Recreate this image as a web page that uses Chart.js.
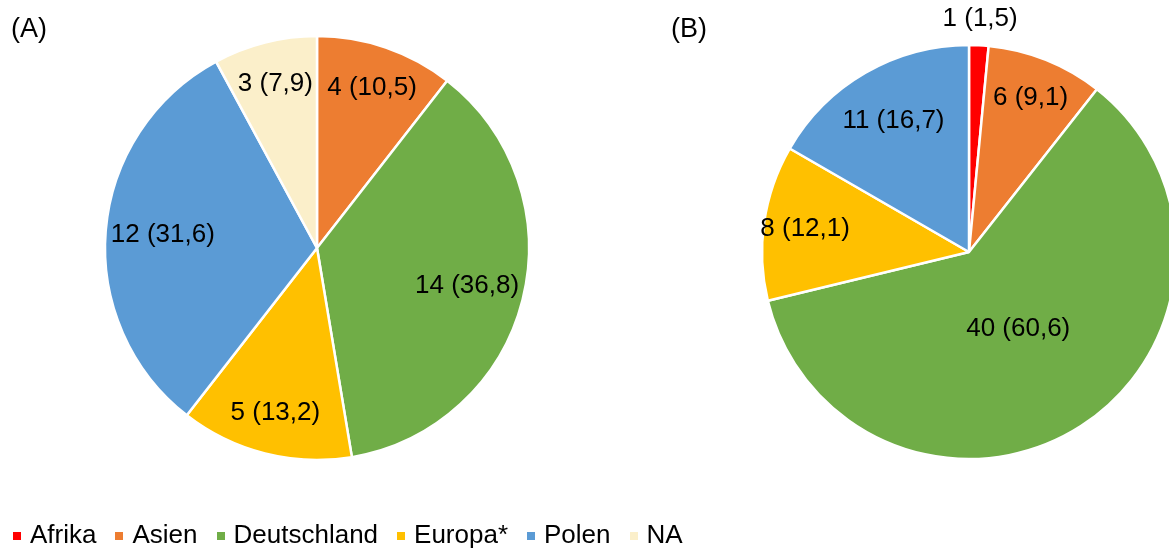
<!DOCTYPE html>
<html lang="de">
<head>
<meta charset="utf-8">
<title>Herkunft</title>
<script src="https://cdn.jsdelivr.net/npm/chart.js@4.4.1/dist/chart.umd.min.js"></script>
<style>
  html, body { margin: 0; padding: 0; background: #fff; overflow: hidden; }
  body { width: 1169px; height: 548px; position: relative; font-family: Arial, "Liberation Sans", sans-serif; }
  canvas { position: absolute; left: 0; top: 0; }
  .panel-title { position: absolute; top: 10px; font-size: 27px; color: #000; line-height: 36px; }
  #legend { position: absolute; left: 13px; top: 519px; display: flex; align-items: center; font-size: 26px; line-height: 30px; color: #000; white-space: nowrap; }
  #legend .item { display: flex; align-items: center; margin-right: 19px; }
  #legend .box { width: 8px; height: 8px; margin-right: 9px; position: relative; top: 2px; }
</style>
</head>
<body>
<canvas id="pieA" width="1169" height="548"></canvas>
<canvas id="pieB" width="1169" height="548"></canvas>
<div class="panel-title" id="titleA" style="left:11px"></div>
<div class="panel-title" id="titleB" style="left:671px"></div>
<div id="legend"></div>

<script>
// Herkunftsregionen, Anzahl je Gruppe
const categories = ['Afrika', 'Asien', 'Deutschland', 'Europa*', 'Polen', 'NA'];
const countsA = [0, 4, 14, 5, 12, 3];
const countsB = [1, 6, 40, 8, 11, 0];
const panelTitles = ['(A)', '(B)'];

// Farben je Kategorie
const palette = ['#FF0000', '#ED7D31', '#70AD47', '#FFC000', '#5B9BD5', '#FBEFCA'];

// "n (p)" mit Prozent auf eine Nachkommastelle, Dezimalkomma
function sliceLabel(v, total) {
  return v + ' (' + (v / total * 100).toFixed(1).replace('.', ',') + ')';
}

// Abstand des Labels vom Mittelpunkt, relativ zum Radius
function labelRadiusFactor(frac) {
  if (frac > 0.5) return 0.44;
  if (frac < 0.03) return 1.13;
  if (frac < 0.14) return 0.8;
  return 0.73;
}

const sliceLabels = {
  id: 'sliceLabels',
  afterDatasetsDraw(chart) {
    const ctx = chart.ctx;
    const data = chart.data.datasets[0].data;
    const total = data.reduce((a, b) => a + b, 0);
    const meta = chart.getDatasetMeta(0);
    ctx.save();
    ctx.font = '26px Arial, "Liberation Sans", sans-serif';
    ctx.fillStyle = '#000';
    ctx.textAlign = 'center';
    ctx.textBaseline = 'middle';
    meta.data.forEach((arc, i) => {
      const v = data[i];
      if (!v) return;
      const p = arc.getProps(['x', 'y', 'startAngle', 'endAngle', 'outerRadius'], true);
      const mid = (p.startAngle + p.endAngle) / 2;
      const r = p.outerRadius * labelRadiusFactor(v / total);
      ctx.fillText(sliceLabel(v, total), p.x + Math.cos(mid) * r, p.y + Math.sin(mid) * r);
    });
    ctx.restore();
  }
};

function makePie(canvasId, counts, radius, padding) {
  return new Chart(document.getElementById(canvasId), {
    type: 'pie',
    data: {
      labels: categories,
      datasets: [{
        data: counts,
        backgroundColor: palette,
        borderColor: '#ffffff',
        borderWidth: 2.5
      }]
    },
    options: {
      responsive: false,
      animation: false,
      radius: radius,
      layout: { padding: padding },
      plugins: { legend: { display: false }, tooltip: { enabled: false } },
      events: []
    },
    plugins: [sliceLabels]
  });
}

makePie('pieA', countsA, 212, { left: 87, right: 622, top: 18, bottom: 70 });
makePie('pieB', countsB, 207, { left: 769, right: 0, top: 52, bottom: 96 });

document.getElementById('titleA').textContent = panelTitles[0];
document.getElementById('titleB').textContent = panelTitles[1];

// Gemeinsame Legende
const legend = document.getElementById('legend');
categories.forEach((name, i) => {
  const item = document.createElement('div');
  item.className = 'item';
  const box = document.createElement('span');
  box.className = 'box';
  box.style.background = palette[i];
  const txt = document.createElement('span');
  txt.textContent = name;
  item.appendChild(box);
  item.appendChild(txt);
  legend.appendChild(item);
});
</script>
</body>
</html>
